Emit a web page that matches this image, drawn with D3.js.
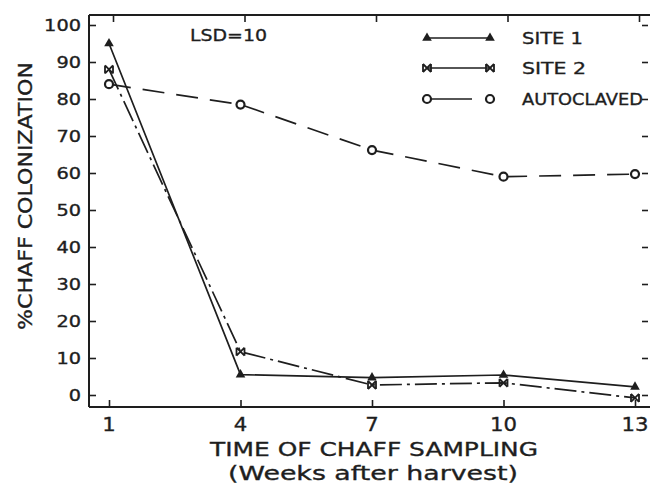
<!DOCTYPE html>
<html><head><meta charset="utf-8">
<script src="https://cdn.jsdelivr.net/npm/d3@7"></script>
<style>
html,body{margin:0;padding:0;background:#fff;}
text{font-family:"DejaVu Sans",Verdana,sans-serif;fill:#1e1e1e;stroke:#1e1e1e;stroke-width:0.35;}
</style></head>
<body><svg id="c" width="652" height="487"></svg>
<script>
const weeks = [1, 4, 7, 10, 13];
const site1 = [95, 5.5, 4.7, 5.4, 2.2];
const site2 = [88, 11.7, 2.7, 3.3, -0.8];
const autoclaved = [84, 78.5, 66.2, 59, 59.7];
const yTicks = [0, 10, 20, 30, 40, 50, 60, 70, 80, 90, 100];
const seriesNames = ["SITE 1", "SITE 2", "AUTOCLAVED"];

const svg = d3.select("#c");
const ink = "#1e1e1e";
const x = d3.scaleLinear().domain([1, 13]).range([109, 635]);
const y = d3.scaleLinear().domain([0, 100]).range([395, 25]);
const pLeft = 89, pRight = 650, pTop = 15, pBottom = 407;

// frame
svg.append("line").attr("x1", pLeft).attr("x2", pRight).attr("y1", pTop).attr("y2", pTop).attr("stroke", ink).attr("stroke-width", 2);
svg.append("line").attr("x1", pLeft).attr("x2", pRight).attr("y1", pBottom).attr("y2", pBottom).attr("stroke", ink).attr("stroke-width", 2);
svg.append("line").attr("x1", pLeft).attr("x2", pLeft).attr("y1", pTop).attr("y2", pBottom).attr("stroke", ink).attr("stroke-width", 2);

// left axis (inward ticks)
const gl = svg.append("g").attr("transform", `translate(${pLeft},0)`)
  .call(d3.axisRight(y).tickValues(yTicks).tickSize(7).tickFormat(""));
gl.select(".domain").remove();
gl.selectAll("line").attr("stroke", ink).attr("stroke-width", 1.6);
svg.selectAll(".ylab").data(yTicks).join("text").attr("class", "ylab")
  .attr("x", 81).attr("y", d => y(d)).attr("dy", "0.36em").attr("text-anchor", "end")
  .attr("font-size", 15.5)
  .attr("textLength", d => String(d).length * 12.3).attr("lengthAdjust", "spacingAndGlyphs")
  .text(d => d);

// right axis ticks
const gr = svg.append("g").attr("transform", `translate(${pRight - 2},0)`)
  .call(d3.axisLeft(y).tickValues(yTicks).tickSize(6).tickFormat(""));
gr.select(".domain").remove();
gr.selectAll("line").attr("stroke", ink).attr("stroke-width", 1.6);

// bottom axis
const gb = svg.append("g").attr("transform", `translate(0,${pBottom})`)
  .call(d3.axisTop(x).tickValues(weeks).tickSize(7).tickFormat(""));
gb.select(".domain").remove();
gb.selectAll("line").attr("stroke", ink).attr("stroke-width", 1.6);
svg.selectAll(".xlab").data(weeks).join("text").attr("class", "xlab")
  .attr("x", d => x(d)).attr("y", 431).attr("text-anchor", "middle")
  .attr("font-size", 19)
  .attr("textLength", d => String(d).length * 13.5).attr("lengthAdjust", "spacingAndGlyphs")
  .text(d => d);

// top axis ticks
const gt = svg.append("g").attr("transform", `translate(4,${pTop})`)
  .call(d3.axisBottom(x).tickValues(weeks).tickSize(7).tickFormat(""));
gt.select(".domain").remove();
gt.selectAll("line").attr("stroke", ink).attr("stroke-width", 1.6);

// axis titles
svg.append("text").attr("x", 374).attr("y", 456).attr("text-anchor", "middle")
  .attr("font-size", 20).attr("textLength", 328).attr("lengthAdjust", "spacingAndGlyphs").text("TIME OF CHAFF SAMPLING");
svg.append("text").attr("x", 373).attr("y", 480).attr("text-anchor", "middle")
  .attr("font-size", 20).attr("textLength", 290).attr("lengthAdjust", "spacingAndGlyphs").text("(Weeks after harvest)");
svg.append("text").attr("transform", "translate(32,196) rotate(-90)").attr("text-anchor", "middle")
  .attr("font-size", 20).attr("textLength", 268).attr("lengthAdjust", "spacingAndGlyphs").text("%CHAFF COLONIZATION");

svg.append("text").attr("x", 190).attr("y", 41).attr("font-size", 16).attr("textLength", 77).attr("lengthAdjust", "spacingAndGlyphs").text("LSD=10");

// series
const line = d3.line().x((d, i) => x(weeks[i])).y(d => y(d));
const data = [
  {vals: site1, dash: null, marker: "tri"},
  {vals: site2, dash: "22,5,3,5", marker: "x"},
  {vals: autoclaved, dash: "22,12", marker: "circ"}
];
function marker(g, type, cx, cy) {
  if (type === "tri") {
    g.append("path").attr("d", d3.symbol(d3.symbolTriangle, 40)()).attr("transform", `translate(${cx},${cy})`).attr("fill", ink);
  } else if (type === "x") {
    g.append("path").attr("d", `M${cx-4},${cy-4}L${cx+4},${cy+4}M${cx+4},${cy-4}L${cx-4},${cy+4}M${cx-4},${cy-4}V${cy+4}M${cx+4},${cy-4}V${cy+4}`)
      .attr("stroke", ink).attr("stroke-width", 1.8).attr("fill", "none");
  } else {
    g.append("circle").attr("cx", cx).attr("cy", cy).attr("r", 4).attr("fill", "#fff").attr("stroke", ink).attr("stroke-width", 2.2);
  }
}
data.forEach(s => {
  svg.append("path").attr("d", line(s.vals)).attr("fill", "none").attr("stroke", ink)
    .attr("stroke-width", 1.7).attr("stroke-dasharray", s.dash);
  const g = svg.append("g");
  s.vals.forEach((v, i) => marker(g, s.marker, x(weeks[i]), y(v)));
});

// legend
const legY = [38, 68, 99];
const legW = [61, 64, 121];
seriesNames.forEach((name, i) => {
  const ly = legY[i];
  const g = svg.append("g");
  const x2 = i === 2 ? 472 : 490;
  g.append("line").attr("x1", 427).attr("x2", x2).attr("y1", ly).attr("y2", ly).attr("stroke", ink).attr("stroke-width", 1.7);
  marker(g, data[i].marker, 427, ly);
  marker(g, data[i].marker, 490, ly);
  g.append("text").attr("x", 522).attr("y", ly).attr("dy", "0.36em").attr("font-size", 16)
    .attr("textLength", legW[i]).attr("lengthAdjust", "spacingAndGlyphs").text(name);
});
</script></body></html>
